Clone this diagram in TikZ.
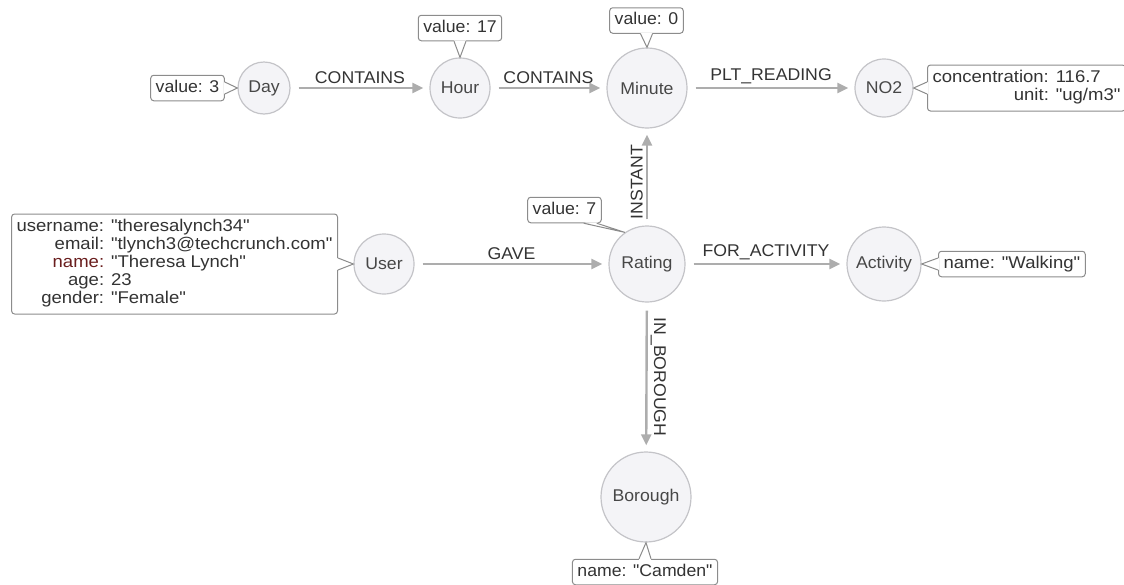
\documentclass[tikz,border=0pt]{standalone}
\usepackage{fontspec}
\setmainfont{Liberation Sans}[Ligatures=TeXOff, FakeStretch=1.04]
\newfontfamily\widefont{Liberation Sans}[Ligatures=TeXOff, FakeStretch=1.09]
\usetikzlibrary{arrows.meta,calc}
\definecolor{nodefill}{HTML}{F4F4F7}
\definecolor{nodeline}{HTML}{C4C4C8}
\definecolor{relline}{HTML}{ADADAD}
\definecolor{boxline}{HTML}{8C8C8C}
\definecolor{txt}{HTML}{333333}
\definecolor{keyred}{HTML}{6A1E1E}
\begin{document}
\begin{tikzpicture}[x=1pt,y=-1pt,
  font=\fontsize{17}{18}\selectfont, text=txt,
  entity/.style={circle, draw=nodeline, line width=1.2pt, fill=nodefill,
    inner sep=0pt, minimum size=#1, text=txt!90},
  rel/.style={draw=relline, line width=2.4pt,
    -{Triangle[length=11pt,width=10pt]}, shorten <=#1, shorten >=6pt},
  rel/.default=8pt,
  rellabel/.style={text=txt, inner sep=3pt},
  propbox/.style={draw=boxline, line width=1pt, rounded corners=3pt,
    fill=white, inner xsep=5pt, inner ysep=5pt, text=txt},
  oneline/.style={propbox, text height=12pt, text depth=3.5pt},
  pointer/.style={draw=boxline, line width=1pt, line join=miter}
]
\useasboundingbox (0,0) rectangle (1124,584);

% graph nodes
\node[entity=52pt] (day) at (264,88) {Day};
\node[entity=60pt] (hour) at (460,88) {Hour};
\node[entity=80pt] (minute) at (647,88) {Minute};
\node[entity=58pt] (no2) at (884,88) {NO2};
\node[entity=60pt] (user) at (384,264) {User};
\node[entity=76pt] (rating) at (647,264) {Rating};
\node[entity=74pt] (activity) at (884,264) {Activity};
\node[entity=90pt] (borough) at (646,497) {Borough};

% relationships
\draw[rel] (day) -- node[rellabel, midway, above] {CONTAINS} (hour);
\draw[rel] (hour) -- node[rellabel, midway, above] {CONTAINS} (minute);
\draw[rel] (minute) -- node[rellabel, midway, above] {PLT\_READING} (no2);
\draw[rel] (user) -- node[rellabel, midway, above] {GAVE} (rating);
\draw[rel] (rating) -- node[rellabel, midway, above] {FOR\_ACTIVITY} (activity);
\draw[rel=6pt] (rating) -- node[rellabel, pos=0.45, rotate=90, anchor=south] {INSTANT} (minute);
\draw[rel] (rating) -- node[rellabel, midway, rotate=-90, anchor=south] {IN\_BOROUGH} (borough);

% property boxes
\node[oneline] (pday) at (187.5,88) {value: 3};
\node[oneline] (phour) at (460,28) {value: 17};
\node[oneline] (pminute) at (646.5,20.5) {value: 0};
\node[propbox, anchor=west, font=\widefont\fontsize{17}{18}\selectfont] (pno2) at (927,88)
  {\begin{tabular}{@{}r@{ }l@{}}concentration:&116.7\\unit:&"ug/m3"\end{tabular}};
\node[propbox, anchor=east, font=\widefont\fontsize{17}{18}\selectfont] (puser) at (338,264)
  {\begin{tabular}{@{}r@{ }l@{}}
   username:&"theresalynch34"\\
   email:&"tlynch3@techcrunch.com"\\
   \textcolor{keyred}{name:}&"Theresa Lynch"\\
   age:&23\\
   gender:&"Female"\end{tabular}};
\node[oneline] (prating) at (564.5,210) {value: 7};
\node[oneline, anchor=west, font=\widefont\fontsize{17}{18}\selectfont] (pactivity) at (938,264) {name: "Walking"};
\node[oneline] (pborough) at (645,572) {name: "Camden"};

% callout pointers
\fill[white] ($(pday.east)+(-1,-6)$) -- (day.west) -- ($(pday.east)+(-1,6)$) -- cycle;
\draw[pointer] ($(pday.east)+(0,-6)$) -- (day.west) -- ($(pday.east)+(0,6)$);

\fill[white] ($(phour.south)+(-6,-1)$) -- (hour.north) -- ($(phour.south)+(6,-1)$) -- cycle;
\draw[pointer] ($(phour.south)+(-6,0)$) -- (hour.north) -- ($(phour.south)+(6,0)$);

\fill[white] ($(pminute.south)+(-6,-1)$) -- (minute.north) -- ($(pminute.south)+(6,-1)$) -- cycle;
\draw[pointer] ($(pminute.south)+(-6,0)$) -- (minute.north) -- ($(pminute.south)+(6,0)$);

\fill[white] ($(pno2.west)+(1,-6)$) -- (no2.east) -- ($(pno2.west)+(1,6)$) -- cycle;
\draw[pointer] ($(pno2.west)+(0,-6)$) -- (no2.east) -- ($(pno2.west)+(0,6)$);

\fill[white] ($(puser.east)+(-1,-6)$) -- (user.west) -- ($(puser.east)+(-1,6)$) -- cycle;
\draw[pointer] ($(puser.east)+(0,-6)$) -- (user.west) -- ($(puser.east)+(0,6)$);

\fill[white] ($(prating.south east)+(-18,-1)$) -- (rating.125) -- ($(prating.south east)+(-5,-1)$) -- cycle;
\draw[pointer] ($(prating.south east)+(-18,0)$) -- (rating.125) -- ($(prating.south east)+(-5,0)$);

\fill[white] ($(pactivity.west)+(1,-6)$) -- (activity.east) -- ($(pactivity.west)+(1,6)$) -- cycle;
\draw[pointer] ($(pactivity.west)+(0,-6)$) -- (activity.east) -- ($(pactivity.west)+(0,6)$);

\fill[white] ($(pborough.north)+(-6,1)$) -- (borough.south) -- ($(pborough.north)+(6,1)$) -- cycle;
\draw[pointer] ($(pborough.north)+(-6,0)$) -- (borough.south) -- ($(pborough.north)+(6,0)$);
\end{tikzpicture}
\end{document}
